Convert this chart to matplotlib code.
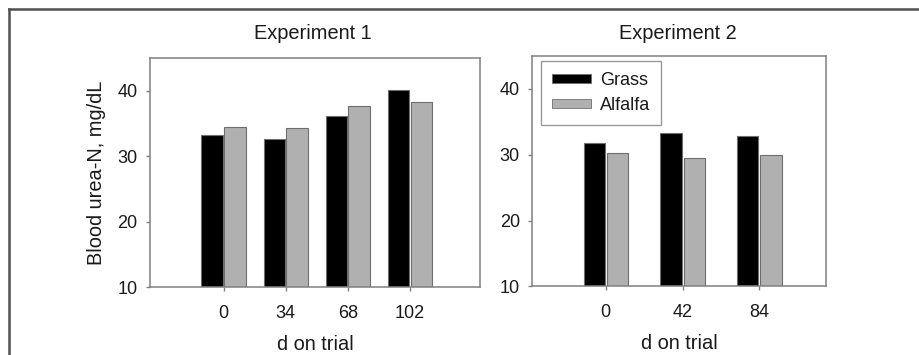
import matplotlib
matplotlib.use("Agg")
import matplotlib.pyplot as plt
import numpy as np
from matplotlib.lines import Line2D
from matplotlib.patches import Patch

plt.rcParams['font.family'] = ['Liberation Sans', 'DejaVu Sans']

# data
exp1_days = ["0", "34", "68", "102"]
exp1_grass = [33.2, 32.7, 36.1, 40.1]
exp1_alfalfa = [34.5, 34.3, 37.6, 38.3]

exp2_days = ["0", "42", "84"]
exp2_grass = [31.8, 33.3, 32.9]
exp2_alfalfa = [30.3, 29.5, 29.9]

GRASS = "#000000"
ALFALFA = "#b0b0b0"
EDGE = "#6e6e6e"
SPINE = "#808080"
TEXT = "#1a1a1a"

fig = plt.figure(figsize=(9.19, 3.55), dpi=100)

ax1 = fig.add_axes([0.1632, 0.1915, 0.3591, 0.645])
ax2 = fig.add_axes([0.5792, 0.1935, 0.3199, 0.6487])


def draw(ax, days, grass, alfalfa, width, off, xlim):
    x = np.arange(len(days))
    ax.bar(x - off, grass, width, bottom=0, color=GRASS, edgecolor=EDGE, linewidth=0.8, zorder=2)
    ax.bar(x + off, alfalfa, width, bottom=0, color=ALFALFA, edgecolor=EDGE, linewidth=0.8, zorder=2)
    ax.set_ylim(10, 45)
    ax.set_xlim(*xlim)
    ax.set_yticks([10, 20, 30, 40])
    ax.set_xticks(x)
    ax.set_xticklabels(days)
    for s in ax.spines.values():
        s.set_color(SPINE)
        s.set_linewidth(1.1)
    ax.tick_params(axis='y', direction='out', length=3, width=1, color=SPINE,
                   labelsize=13, labelcolor=TEXT, pad=6)
    ax.tick_params(axis='x', direction='out', length=3, width=1, color=SPINE,
                   labelsize=13, labelcolor=TEXT, pad=10)
    ax.set_xlabel("d on trial", fontsize=14.4, color=TEXT, labelpad=9)


draw(ax1, exp1_days, exp1_grass, exp1_alfalfa, 0.35, 0.185, (-1.19, 4.13))
draw(ax2, exp2_days, exp2_grass, exp2_alfalfa, 0.275, 0.15, (-0.956, 2.87))

ax1.set_ylabel("Blood urea-N, mg/dL", fontsize=14.4, color=TEXT, labelpad=8)

fig.text(0.3406, 0.907, "Experiment 1", ha='center', va='center', fontsize=14.4, color=TEXT)
fig.text(0.7378, 0.907, "Experiment 2", ha='center', va='center', fontsize=14.4, color=TEXT)

handles = [Patch(facecolor=GRASS, edgecolor=EDGE, linewidth=0.6),
           Patch(facecolor=ALFALFA, edgecolor=EDGE, linewidth=0.6)]
leg = fig.legend(handles, ["Grass", "Alfalfa"], loc='upper left',
                 bbox_to_anchor=(0.5884, 0.8273), borderaxespad=0, fontsize=13,
                 handlelength=2.2, handleheight=0.4, handletextpad=0.5,
                 labelspacing=0.45, borderpad=0.6, frameon=True, fancybox=False,
                 edgecolor=SPINE, labelcolor=TEXT)
leg.get_frame().set_linewidth(1.0)

# outer frame (top and left edges visible)
fig.add_artist(Line2D([9 / 919, 1.0], [1 - 9 / 355, 1 - 9 / 355], transform=fig.transFigure,
                      color="#505050", linewidth=1.8))
fig.add_artist(Line2D([9 / 919, 9 / 919], [0.0, 1 - 9 / 355], transform=fig.transFigure,
                      color="#505050", linewidth=1.8))

fig.savefig("out.png", dpi=100)
